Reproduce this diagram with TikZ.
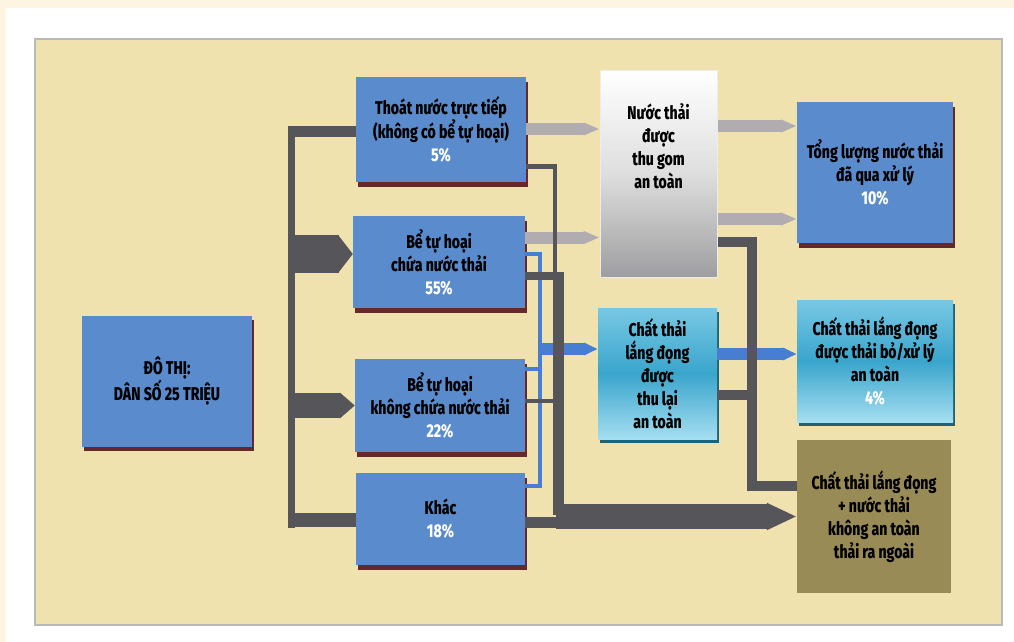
\documentclass[tikz,border=0pt]{standalone}
\usepackage{fontspec}
\setmainfont{Fira Sans}[FakeStretch=0.76,BoldFont={Fira Sans ExtraBold}]
\usetikzlibrary{arrows.meta,positioning,calc,shadows}
\definecolor{pagecream}{RGB}{253,244,226}
\definecolor{panelfill}{RGB}{239,226,175}
\definecolor{panelline}{RGB}{185,185,185}
\definecolor{boxblue}{RGB}{90,139,205}
\definecolor{boxshadow}{RGB}{100,40,45}
\definecolor{cyantop}{RGB}{120,200,228}
\definecolor{cyanmid}{RGB}{58,165,204}
\definecolor{cyanbot}{RGB}{165,222,240}
\definecolor{cyanshadow}{RGB}{30,100,118}
\definecolor{graymid}{RGB}{222,222,222}
\definecolor{graybot}{RGB}{158,158,160}
\definecolor{oliveloss}{RGB}{153,139,86}
\definecolor{darkflow}{RGB}{85,85,90}
\definecolor{lightflow}{RGB}{176,172,176}
\definecolor{blueflow}{RGB}{72,126,210}
\newcommand\boxfont{\bfseries\fontsize{18.5}{23}\selectfont}
\newcommand\pcttext[1]{{\color{white}#1}}
\tikzset{
  panel/.style={draw=panelline,line width=1.5pt,fill=panelfill},
  flowbox/.style={fill=boxblue,align=center,inner sep=1pt,font=\boxfont,
    drop shadow={shadow xshift=1.5pt,shadow yshift=-4.5pt,fill=boxshadow,opacity=1}},
  cyanbox/.style={top color=cyantop,bottom color=cyanbot,middle color=cyanmid,
    align=center,inner sep=1pt,font=\boxfont,
    drop shadow={shadow xshift=1.5pt,shadow yshift=-4pt,fill=cyanshadow,opacity=1}},
  graybox/.style={draw=white!85!gray,line width=1pt,top color=white,
    bottom color=graybot,middle color=graymid},
  olivebox/.style={fill=oliveloss,align=center,inner sep=1pt,font=\boxfont},
  boxtext/.style={align=center,inner sep=1pt,font=\boxfont},
  busline/.style={draw=darkflow,line width=7pt},
  darkline/.style={draw=darkflow},
  darkarrow/.style={draw=darkflow,-{Triangle[width=0pt 1,length=15pt]}},
  grayarrow/.style={draw=lightflow,line width=12pt,-{Triangle[width=0pt 1,length=16pt]}},
  bluelink/.style={draw=blueflow,line width=4pt},
  bluearrow/.style={draw=blueflow,line width=12pt,-{Triangle[width=0pt 1,length=14pt]}},
}
\begin{document}
\begin{tikzpicture}[x=1pt,y=-1pt]
  \useasboundingbox (0,0) rectangle (1014,642);
  \fill[pagecream] (0,0) rectangle (1014,642);
  \fill[white] (6,8) rectangle (1014,642);
  \draw[panel] (35,39) rectangle (1002,625);

  \node[flowbox,minimum width=170pt,minimum height=131pt] (city) at (167,381)
    {ĐÔ THỊ:\\DÂN SỐ 25 TRIỆU};
  \node[flowbox,minimum width=170pt,minimum height=105pt] (thoat) at (441,129.5)
    {Thoát nước trực tiếp\\(không có bể tự hoại)\\\pcttext{5\%}};
  \node[flowbox,minimum width=172pt,minimum height=92pt] (beChua) at (439,262)
    {Bể tự hoại\\chứa nước thải\\\pcttext{55\%}};
  \node[flowbox,minimum width=170pt,minimum height=93pt] (beKhong) at (440,405.5)
    {Bể tự hoại\\không chứa nước thải\\\pcttext{22\%}};
  \node[flowbox,minimum width=169pt,minimum height=92pt] (khac) at (440.5,519)
    {Khác\\\pcttext{18\%}};
  \node[graybox,minimum width=117pt,minimum height=207pt] (thuGom) at (658.5,173.5) {};
  \node[boxtext] (thuGomText) at ([yshift=27.5pt]thuGom.center)
    {Nước thải\\được\\thu gom\\an toàn};
  \node[cyanbox,minimum width=119pt,minimum height=131pt] (laiBox) at (657.5,373.5)
    {Chất thải\\lắng đọng\\được\\thu lại\\an toàn};
  \node[flowbox,minimum width=156pt,minimum height=141pt] (tong) at (875,172.5)
    {Tổng lượng nước thải\\đã qua xử lý\\\pcttext{10\%}};
  \node[cyanbox,minimum width=156pt,minimum height=122pt] (antoan) at (875,361)
    {Chất thải lắng đọng\\được thải bỏ/xử lý\\an toàn\\\pcttext{4\%}};
  \node[olivebox,minimum width=154pt,minimum height=153pt] (olive) at (874,516.5)
    {Chất thải lắng đọng\\+ nước thải\\không an toàn\\thải ra ngoài};

  \coordinate (busTop) at (291.5,126);
  \coordinate (busBot) at (291.5,528);
  \coordinate (band) at (560,515);
  \coordinate (sideX) at (752,300);
  \coordinate (blueX) at (540,350);

  \draw[busline] (busTop) -- (busBot);
  \draw[darkline,line width=11pt] ([yshift=-2pt]thoat.west) -- ([yshift=-2pt]thoat.west -| busTop);
  \draw[darkarrow,line width=38pt] ([yshift=8pt]beChua.west -| busTop) -- ([yshift=8pt]beChua.west);
  \draw[darkarrow,line width=25pt] (beKhong.west -| busTop) -- (beKhong.west);
  \draw[darkline,line width=14pt] ([yshift=-1pt]khac.west) -- ([yshift=-1pt]khac.west -| busBot);

  \draw[grayarrow] ([yshift=0.5pt]thoat.east) -- ([yshift=0.5pt]thoat.east -| thuGom.west);
  \draw[grayarrow] ([yshift=24.5pt]beChua.east) -- ([yshift=24.5pt]beChua.east -| thuGom.west);
  \draw[grayarrow] ([yshift=47.5pt]thuGom.east) -- ([yshift=47.5pt]thuGom.east -| tong.west);
  \draw[grayarrow] ([yshift=-45.5pt]thuGom.east) -- ([yshift=-45.5pt]thuGom.east -| tong.west);

  \draw[bluelink] ([yshift=8.5pt]beChua.east) -| (blueX) |- ([yshift=33.5pt]khac.east);
  \draw[bluelink] ([yshift=36.5pt]beKhong.east) -- ([yshift=36.5pt]beKhong.east -| blueX);
  \draw[bluearrow] ([yshift=24.5pt]laiBox.west -| blueX) -- ([yshift=24.5pt]laiBox.west);
  \draw[bluearrow] ([yshift=19.5pt]laiBox.east) -- ([yshift=19.5pt]laiBox.east -| antoan.west);

  \draw[darkline,line width=4.5pt] ([yshift=-37pt]thoat.east) -| ([xshift=-5pt]band);
  \draw[darkline,line width=8pt] ([yshift=-13.5pt]beChua.east) -| (band);
  \draw[darkline,line width=4pt] ([yshift=4.5pt]beKhong.east) -- ([yshift=4.5pt]beKhong.east -| band);
  \draw[darkline,line width=11pt] ([yshift=-3pt]khac.east) -- ([yshift=-3pt]khac.east -| band);
  \draw[darkarrow,line width=25pt,-{Triangle[width=0pt 1,length=30pt]}]
    ([xshift=-4pt]band |- olive.west) -- (olive.west);
  \draw[darkline,line width=10pt] ([yshift=-68.5pt]thuGom.east) -| (sideX) |- ([yshift=30.5pt]olive.west);
  \draw[darkline,line width=10pt] ([yshift=-21.5pt]laiBox.east) -- ([yshift=-21.5pt]laiBox.east -| sideX);
\end{tikzpicture}
\end{document}
